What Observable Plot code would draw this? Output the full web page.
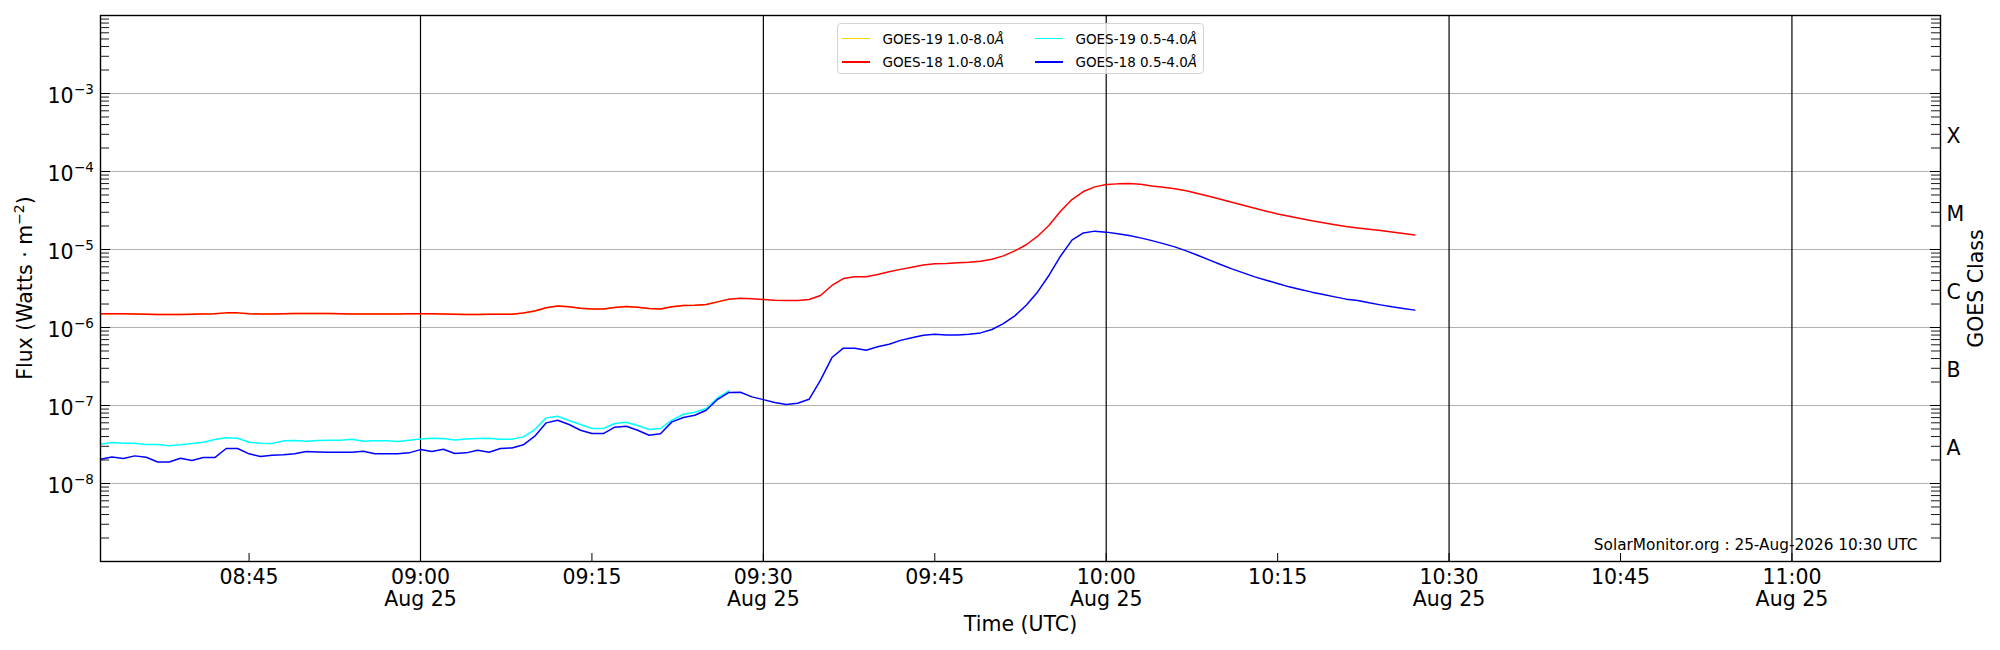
<!DOCTYPE html>
<html>
<head>
<meta charset="utf-8">
<script src="https://cdn.jsdelivr.net/npm/d3@7"></script>
<script src="https://cdn.jsdelivr.net/npm/@observablehq/plot@0.6"></script>
<style>
  html, body { margin: 0; padding: 0; background: white; }
  #wrap { position: relative; width: 2000px; height: 650px; font-family: "DejaVu Sans", sans-serif; }
  .legend { position: absolute; left: 837px; top: 23px; width: 365px; height: 49px;
    border: 1px solid #d5d5d5; border-radius: 4px; background: rgba(255,255,255,0.8); }
  .item { position: absolute; height: 16px; font-size: 13.5px; line-height: 16px; white-space: nowrap; color: #000; }
  .sw { position: absolute; left: 0; top: 7px; width: 28px; height: 1.6px; }
  .lab { position: absolute; left: 40.5px; top: 0; }
</style>
</head>
<body>
<div id="wrap"></div>
<script>
// ---- Data (1-minute cadence starting 2026-08-25 08:32 UTC) ----
const startTime = "2026-08-25T08:32:00Z";

const goes18Long = [
1.50e-6,1.50e-6,1.50e-6,1.49e-6,1.48e-6,1.47e-6,1.47e-6,1.47e-6,1.48e-6,1.49e-6,
1.50e-6,1.54e-6,1.54e-6,1.50e-6,1.49e-6,1.49e-6,1.50e-6,1.51e-6,1.51e-6,1.51e-6,
1.51e-6,1.50e-6,1.49e-6,1.49e-6,1.49e-6,1.49e-6,1.49e-6,1.50e-6,1.50e-6,1.50e-6,
1.49e-6,1.48e-6,1.47e-6,1.47e-6,1.48e-6,1.48e-6,1.48e-6,1.53e-6,1.63e-6,1.79e-6,
1.89e-6,1.84e-6,1.77e-6,1.73e-6,1.73e-6,1.80e-6,1.86e-6,1.82e-6,1.75e-6,1.73e-6,
1.84e-6,1.91e-6,1.93e-6,1.97e-6,2.13e-6,2.31e-6,2.37e-6,2.33e-6,2.28e-6,2.24e-6,
2.22e-6,2.22e-6,2.28e-6,2.57e-6,3.46e-6,4.24e-6,4.46e-6,4.46e-6,4.78e-6,5.17e-6,
5.56e-6,5.93e-6,6.32e-6,6.58e-6,6.61e-6,6.74e-6,6.87e-6,7.08e-6,7.51e-6,8.29e-6,
9.60e-6,1.15e-5,1.48e-5,2.05e-5,3.10e-5,4.37e-5,5.53e-5,6.35e-5,6.81e-5,6.94e-5,
7.01e-5,6.87e-5,6.54e-5,6.29e-5,5.99e-5,5.65e-5,5.22e-5,4.82e-5,4.41e-5,4.04e-5,
3.70e-5,3.38e-5,3.10e-5,2.86e-5,2.67e-5,2.49e-5,2.33e-5,2.20e-5,2.07e-5,1.97e-5,
1.89e-5,1.82e-5,1.75e-5,1.68e-5,1.60e-5,1.53e-5
];

const goes18Short = [
2.05e-8,2.19e-8,2.09e-8,2.26e-8,2.17e-8,1.89e-8,1.89e-8,2.11e-8,1.97e-8,2.15e-8,
2.15e-8,2.81e-8,2.81e-8,2.40e-8,2.22e-8,2.31e-8,2.33e-8,2.40e-8,2.57e-8,2.54e-8,
2.52e-8,2.52e-8,2.52e-8,2.59e-8,2.40e-8,2.40e-8,2.40e-8,2.47e-8,2.72e-8,2.57e-8,
2.75e-8,2.42e-8,2.47e-8,2.67e-8,2.52e-8,2.81e-8,2.86e-8,3.13e-8,4.04e-8,5.99e-8,
6.48e-8,5.70e-8,4.82e-8,4.37e-8,4.37e-8,5.27e-8,5.43e-8,4.82e-8,4.16e-8,4.33e-8,
6.17e-8,7.01e-8,7.51e-8,8.70e-8,1.20e-7,1.47e-7,1.48e-7,1.29e-7,1.19e-7,1.09e-7,
1.03e-7,1.07e-7,1.20e-7,2.11e-7,4.12e-7,5.43e-7,5.43e-7,5.12e-7,5.65e-7,6.11e-7,
6.84e-7,7.40e-7,7.93e-7,8.20e-7,8.04e-7,8.04e-7,8.20e-7,8.53e-7,9.42e-7,1.12e-6,
1.41e-6,1.93e-6,2.86e-6,4.68e-6,8.20e-6,1.32e-5,1.63e-5,1.72e-5,1.67e-5,1.59e-5,
1.51e-5,1.41e-5,1.30e-5,1.19e-5,1.08e-5,9.60e-6,8.45e-6,7.36e-6,6.42e-6,5.65e-6,
5.02e-6,4.46e-6,4.04e-6,3.66e-6,3.32e-6,3.07e-6,2.84e-6,2.65e-6,2.47e-6,2.31e-6,
2.22e-6,2.07e-6,1.95e-6,1.84e-6,1.75e-6,1.67e-6
];

const goes19Long = [
1.50e-6,1.50e-6,1.50e-6,1.49e-6,1.48e-6,1.47e-6,1.47e-6,1.47e-6,1.48e-6,1.49e-6,
1.50e-6,1.54e-6,1.54e-6,1.50e-6,1.49e-6,1.49e-6,1.50e-6,1.51e-6,1.51e-6,1.51e-6,
1.51e-6,1.50e-6,1.49e-6,1.49e-6,1.49e-6,1.49e-6,1.49e-6,1.50e-6,1.50e-6,1.50e-6,
1.49e-6,1.48e-6,1.47e-6,1.47e-6,1.48e-6,1.48e-6,1.48e-6,1.53e-6,1.63e-6,1.79e-6,
1.89e-6,1.84e-6,1.77e-6,1.73e-6,1.73e-6,1.80e-6,1.86e-6,1.82e-6,1.75e-6,1.73e-6,
1.84e-6,1.91e-6,1.93e-6,1.97e-6,2.13e-6,2.31e-6
];

const goes19Short = [
3.19e-8,3.35e-8,3.28e-8,3.28e-8,3.16e-8,3.16e-8,3.04e-8,3.13e-8,3.25e-8,3.38e-8,
3.66e-8,3.85e-8,3.81e-8,3.38e-8,3.28e-8,3.25e-8,3.52e-8,3.56e-8,3.49e-8,3.56e-8,
3.59e-8,3.59e-8,3.70e-8,3.49e-8,3.52e-8,3.52e-8,3.45e-8,3.59e-8,3.73e-8,3.81e-8,
3.77e-8,3.62e-8,3.73e-8,3.77e-8,3.81e-8,3.70e-8,3.70e-8,3.96e-8,4.92e-8,6.94e-8,
7.29e-8,6.42e-8,5.70e-8,5.07e-8,5.07e-8,5.87e-8,6.11e-8,5.53e-8,4.92e-8,5.07e-8,
6.48e-8,7.73e-8,8.20e-8,9.14e-8,1.26e-7,1.54e-7
];

const seriesNames = ["GOES-19 1.0-8.0", "GOES-18 1.0-8.0", "GOES-19 0.5-4.0", "GOES-18 0.5-4.0"];
const seriesColors = ["#ffd700", "#ff0000", "#00ffff", "#0000ff"];

const xTickStrings = ["08:45","09:00","09:15","09:30","09:45","10:00","10:15","10:30","10:45","11:00"];
const xTickLabels = ["08:45","09:00\nAug 25","09:15","09:30\nAug 25","09:45","10:00\nAug 25","10:15","10:30\nAug 25","10:45","11:00\nAug 25"];
const vLineStrings = ["09:00","09:30","10:00","10:30","11:00"];

const yDecades = [1e-9,1e-8,1e-7,1e-6,1e-5,1e-4,1e-3,1e-2];
const yGridDecades = [1e-8,1e-7,1e-6,1e-5,1e-4,1e-3];
const yLabelExponents = ["−8","−7","−6","−5","−4","−3"];
const goesClasses = ["A","B","C","M","X"];
const goesClassPositions = [3.16e-8,3.16e-7,3.16e-6,3.16e-5,3.16e-4];
const caption = "SolarMonitor.org : 25-Aug-2026 10:30 UTC";

// ---- helpers ----
const t0 = new Date(startTime).getTime();
const tAt = i => new Date(t0 + i * 60000);
const hm = s => new Date("2026-08-25T" + s + ":00Z");
const xTickTimes = xTickStrings.map(hm);
const vLineTimes = vLineStrings.map(hm);
const yMinor = [];
for (const d of yDecades.slice(0, -1)) for (let k = 2; k <= 9; k++) yMinor.push(k * d);

const W = 2000, H = 650, mL = 100, mR = 60, mT = 15, mB = 89;
const fw = W - mL - mR, fh = H - mT - mB;
const FS = 20.5;

const lineOpts = (arr, color) => Plot.lineY(arr, {x: (d, i) => tAt(i), y: d => d, stroke: color, strokeWidth: 1.5});

const chart = Plot.plot({
  width: W, height: H,
  marginLeft: mL, marginRight: mR, marginTop: mT, marginBottom: mB,
  style: {fontFamily: "DejaVu Sans", fontSize: FS + "px", background: "white", overflow: "visible"},
  x: {type: "utc", domain: [hm("08:32"), hm("11:13")], axis: null},
  y: {type: "log", domain: [1e-9, 1e-2], axis: null},
  marks: [
    Plot.ruleY(yGridDecades, {stroke: "#b0b0b0", strokeWidth: 1}),
    Plot.ruleX(vLineTimes, {stroke: "black", strokeWidth: 1.2}),
    lineOpts(goes19Long, seriesColors[0]),
    lineOpts(goes18Long, seriesColors[1]),
    lineOpts(goes19Short, seriesColors[2]),
    lineOpts(goes18Short, seriesColors[3]),
    // inward ticks, left
    Plot.ruleY(yDecades, {insetRight: fw - 10, stroke: "black", strokeWidth: 1}),
    Plot.ruleY(yMinor, {insetRight: fw - 9, stroke: "black", strokeWidth: 0.9}),
    // inward ticks, right
    Plot.ruleY(yDecades, {insetLeft: fw - 10, stroke: "black", strokeWidth: 1}),
    Plot.ruleY(yMinor, {insetLeft: fw - 9, stroke: "black", strokeWidth: 0.9}),
    // inward ticks, bottom
    Plot.ruleX(xTickTimes, {insetTop: fh - 8, stroke: "black", strokeWidth: 1}),
    Plot.frame({stroke: "black", strokeWidth: 1.4}),
    // y tick labels 10^n
    Plot.text(yGridDecades, {y: d => d, text: () => "10", frameAnchor: "left", textAnchor: "end", lineAnchor: "bottom", dx: -27, dy: 9, fontSize: FS}),
    Plot.text(yGridDecades, {y: d => d, text: (d, i) => yLabelExponents[i], frameAnchor: "left", textAnchor: "start", lineAnchor: "bottom", dx: -26.5, dy: 0, fontSize: 13.5}),
    // x tick labels
    Plot.text(xTickTimes, {x: d => d, text: (d, i) => xTickLabels[i], frameAnchor: "bottom", textAnchor: "middle", lineAnchor: "top", dy: 6.1, fontSize: FS, lineHeight: 1.1}),
    // x axis title
    Plot.text(["Time (UTC)"], {frameAnchor: "bottom", textAnchor: "middle", lineAnchor: "bottom", dy: 69.7, fontSize: FS}),
    // GOES classes
    Plot.text(goesClassPositions, {y: d => d, text: (d, i) => goesClasses[i], frameAnchor: "right", textAnchor: "start", dx: 6, dy: 3.5, fontSize: FS}),
    Plot.text(["GOES Class"], {frameAnchor: "right", textAnchor: "middle", rotate: -90, lineAnchor: "bottom", dx: 42, fontSize: FS}),
    // caption
    Plot.text([caption], {frameAnchor: "bottom-right", textAnchor: "end", lineAnchor: "bottom", dx: -23, dy: -12, fontSize: 15.3})
  ]
});

// y-axis title with superscript
const svg = d3.select(chart);
const yt = svg.append("text")
  .attr("transform", `translate(32,${mT + fh / 2}) rotate(-90)`)
  .attr("text-anchor", "middle")
  .attr("font-family", "DejaVu Sans")
  .attr("font-size", FS)
  .attr("fill", "black");
yt.append("tspan").text("Flux (Watts · m");
yt.append("tspan").attr("font-size", 14).attr("dy", -8.5).text("−2");
yt.append("tspan").attr("dy", 8.5).text(")");

const wrap = document.getElementById("wrap");
wrap.appendChild(chart);

// legend (2 columns, column-major like matplotlib)
const legend = document.createElement("div");
legend.className = "legend";
const cols = [4, 197];
const rows = [6.5, 30];
seriesNames.forEach((name, i) => {
  const col = Math.floor(i / 2), row = i % 2;
  const it = document.createElement("div");
  it.className = "item";
  it.style.left = cols[col] + "px";
  it.style.top = rows[row] + "px";
  it.innerHTML = `<span class="sw" style="background:${seriesColors[i]}"></span><span class="lab">${name}<i>Å</i></span>`;
  legend.appendChild(it);
});
wrap.appendChild(legend);
</script>
</body>
</html>
